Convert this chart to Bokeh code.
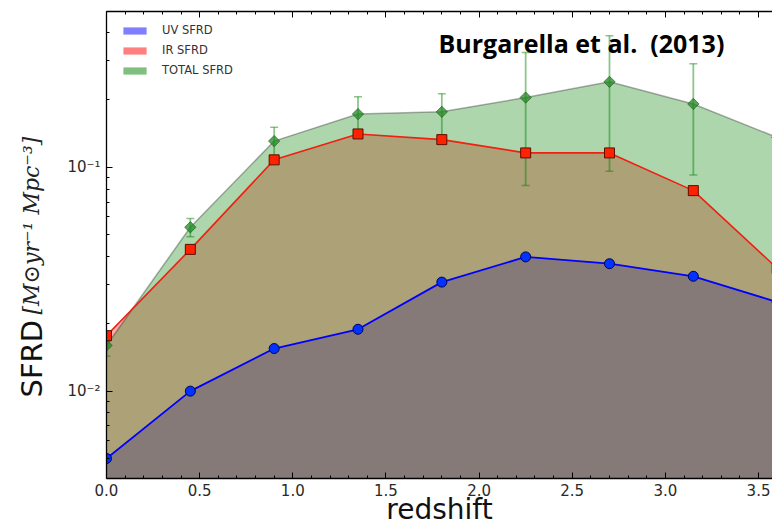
import math
from bokeh.plotting import figure
from bokeh.models import (Range1d, LinearAxis, FixedTicker, SingleIntervalTicker,
                          CustomJSTickFormatter, PrintfTickFormatter, Label,
                          Legend, LegendItem, ColumnDataSource)
from bokeh.embed import file_html
from bokeh.resources import INLINE

# ---------------- data ----------------
redshift = [0.0, 0.45, 0.9, 1.35, 1.8, 2.25, 2.7, 3.15, 3.6]
uv_sfrd = [0.0050, 0.0100, 0.0155, 0.0189, 0.0307, 0.0398, 0.0371, 0.0326, 0.0250]
ir_sfrd = [0.0177, 0.0430, 0.108, 0.141, 0.133, 0.116, 0.116, 0.0787, 0.0354]
total_sfrd = [0.0160, 0.054, 0.131, 0.173, 0.177, 0.205, 0.241, 0.192, 0.136]
total_err_hi = [0.0167, 0.059, 0.151, 0.207, 0.213, 0.326, 0.387, 0.290, 0.175]
total_err_lo = [0.0143, 0.049, 0.110, 0.146, 0.136, 0.083, 0.096, 0.0925, 0.100]
series_names = ["UV SFRD", "IR SFRD", "TOTAL SFRD"]
title_text = "Burgarella et al.\u00a0 (2013)"
x_label = "redshift"
y_label_main = "SFRD"
y_label_unit = "[M\u2299yr\u207b\u00b9 Mpc\u207b\u00b3]"
y_major_ticks = [0.01, 0.1]
fill_floor = 1e-4

W, H = 772, 524
FRAME_LEFT, FRAME_BOTTOM = 106, 478   # canvas pixels

p = figure(width=W, height=H, output_backend="svg", toolbar_location=None,
           x_range=Range1d(0, 3.575), y_range=Range1d(0.00407, 0.497),
           y_axis_type="log", min_border_left=FRAME_LEFT, min_border_right=0,
           min_border_top=11, min_border_bottom=H - FRAME_BOTTOM)
p.outline_line_color = None
p.grid.visible = False
p.background_fill_color = "white"

src = ColumnDataSource(dict(z=redshift, uv=uv_sfrd, ir=ir_sfrd, tot=total_sfrd,
                            hi=total_err_hi, lo=total_err_lo,
                            floor=[fill_floor] * len(redshift)))

# filled areas (drawn in the same order as the original: UV, IR, TOTAL)
p.varea(x="z", y1="floor", y2="uv", source=src, fill_color="#0000ff", fill_alpha=0.32)
p.varea(x="z", y1="floor", y2="ir", source=src, fill_color="#ff0000", fill_alpha=0.30)
p.varea(x="z", y1="floor", y2="tot", source=src, fill_color="#008000", fill_alpha=0.32)
p.line(x="z", y="tot", source=src, line_color="black", line_alpha=0.3, line_width=1.5)

# total with error bars
p.segment(x0="z", y0="lo", x1="z", y1="hi", source=src, line_color="#008000",
          line_alpha=0.45, line_width=1.8)
p.scatter(x="z", y="hi", source=src, marker="dash", size=8, line_color="#008000",
          line_alpha=0.45, line_width=1.5)
p.scatter(x="z", y="lo", source=src, marker="dash", size=8, line_color="#008000",
          line_alpha=0.45, line_width=1.5)
p.scatter(x="z", y="tot", source=src, marker="square", angle=math.pi / 4, size=8,
          fill_color="#208a20", fill_alpha=0.75, line_color="#1a4f1a", line_alpha=0.6)

# UV
p.line(x="z", y="uv", source=src, line_color="#0000ff", line_width=1.8)
p.scatter(x="z", y="uv", source=src, marker="circle", size=10, fill_color="#0033ff",
          line_color="#00005a", line_width=1)
# IR
p.line(x="z", y="ir", source=src, line_color="#f02010", line_width=1.6)
p.scatter(x="z", y="ir", source=src, marker="square", size=10, fill_color="#ff2200",
          line_color="#5a1000", line_width=1)

# axes
for ax in (p.xaxis[0], p.yaxis[0]):
    ax.major_tick_in = 6
    ax.major_tick_out = 0
    ax.minor_tick_in = 3
    ax.minor_tick_out = 0
    ax.axis_line_width = 1.3
    ax.major_label_text_font = "DejaVu Sans"
    ax.major_label_text_font_size = "15px"
    ax.major_label_text_color = "#2a2a2a"
    ax.major_label_standoff = 5

p.xaxis.ticker = SingleIntervalTicker(interval=0.5, num_minor_ticks=5)
p.xaxis.formatter = PrintfTickFormatter(format="%.1f")
minor_y = [k * 10.0 ** e for e in (-3, -2, -1) for k in range(2, 10)]
p.yaxis.ticker = FixedTicker(ticks=y_major_ticks, minor_ticks=minor_y)
p.yaxis.formatter = CustomJSTickFormatter(code="""
const sup = {'-':'\u207b','0':'\u2070','1':'\u00b9','2':'\u00b2','3':'\u00b3','4':'\u2074',
             '5':'\u2075','6':'\u2076','7':'\u2077','8':'\u2078','9':'\u2079'};
const e = Math.round(Math.log10(tick));
return '10' + String(e).split('').map(c => sup[c]).join('');
""")
p.yaxis.major_label_standoff = 6

top = LinearAxis(ticker=SingleIntervalTicker(interval=0.5, num_minor_ticks=5),
                 formatter=CustomJSTickFormatter(code="return '';"),
                 major_label_standoff=0,
                 major_tick_in=6, major_tick_out=0, minor_tick_in=3, minor_tick_out=0,
                 axis_line_width=1.3)
p.add_layout(top, "above")

# legend (hidden proxy patches with stronger alpha, as in the original)
def proxy(col, color):
    return p.varea(x="z", y1="floor", y2=col, source=src, fill_color=color,
                   fill_alpha=0.5, visible=False)

r_uv = proxy("uv", "#0000ff")
r_ir = proxy("ir", "#ff0000")
r_tot = proxy("tot", "#008000")
legend = Legend(items=[LegendItem(label=series_names[0], renderers=[r_uv]),
                       LegendItem(label=series_names[1], renderers=[r_ir]),
                       LegendItem(label=series_names[2], renderers=[r_tot])],
                location=(14, 398), margin=0, padding=0, spacing=0,
                glyph_width=29, glyph_height=9, label_height=20, label_standoff=13,
                label_text_font="DejaVu Sans", label_text_font_size="11.5px",
                label_text_color="#333333", border_line_color=None,
                background_fill_alpha=0, click_policy="none",
                inactive_fill_alpha=0)
p.add_layout(legend, "center")

p.add_layout(Label(x=438 - FRAME_LEFT, y=FRAME_BOTTOM - 42, x_units="screen", y_units="screen",
                   text=title_text, text_font="Open Sans", text_font_style="bold",
                   text_font_size="25px", text_color="black",
                   text_baseline="alphabetic", text_align="left"))

# transparent overlay canvas (separate root) for the axis titles outside the frame
q = figure(width=W, height=H, output_backend="svg", toolbar_location=None,
           x_range=Range1d(0, W), y_range=Range1d(H, 0), min_border=0,
           x_axis_location=None, y_axis_location=None)
q.grid.visible = False
q.outline_line_color = None
q.background_fill_color = None
q.border_fill_color = None
q.styles = {"position": "absolute", "left": "0px", "top": "0px",
            "width": f"{W}px", "height": f"{H}px", "pointer-events": "none"}

q.add_layout(Label(x=439, y=509, text=x_label, text_font="DejaVu Sans",
                   text_font_size="28px", text_color="#111111",
                   text_baseline="alphabetic", text_align="center"))
q.add_layout(Label(x=31, y=397, text=y_label_main, angle=math.pi / 2,
                   text_font="DejaVu Sans", text_font_size="29px", text_color="#111111",
                   text_baseline="alphabetic", text_align="left"))
q.add_layout(Label(x=31, y=314, text=y_label_unit, angle=math.pi / 2,
                   text_font="DejaVu Serif", text_font_style="italic",
                   text_font_size="22px", text_color="#222222",
                   text_baseline="alphabetic", text_align="left"))

open("out.html", "w").write(file_html([p, q], INLINE))
